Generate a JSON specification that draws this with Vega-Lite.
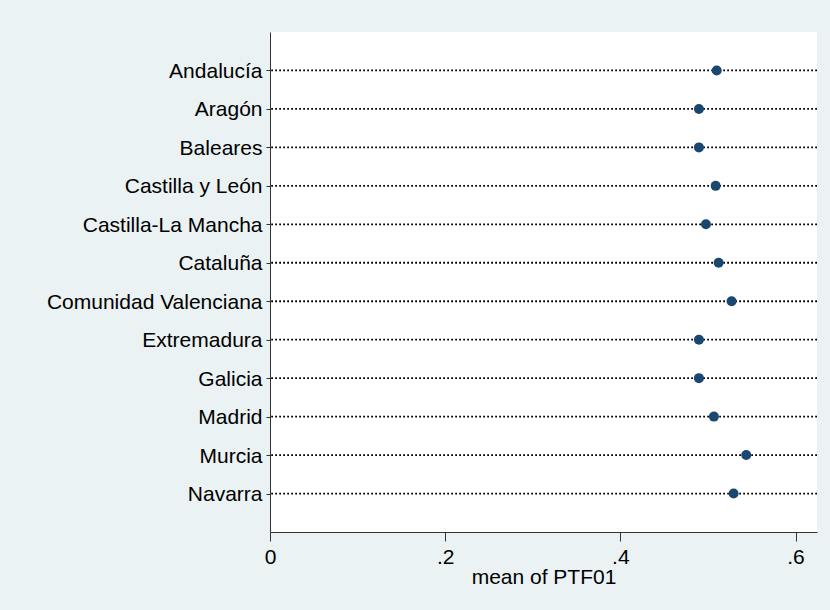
{
  "$schema": "https://vega.github.io/schema/vega-lite/v6.json",
  "autosize": {"type": "none"},
  "width": 547,
  "height": 500,
  "padding": {"left": 270, "top": 32, "right": 13, "bottom": 78},
  "background": "#EAF2F3",
  "config": {
    "view": {"fill": "white", "stroke": null},
    "font": "Liberation Sans"
  },
  "data": {
    "values": [
      {"region": "Andalucía", "mean": 0.510},
      {"region": "Aragón", "mean": 0.4897},
      {"region": "Baleares", "mean": 0.4897},
      {"region": "Castilla y León", "mean": 0.5088},
      {"region": "Castilla-La Mancha", "mean": 0.4977},
      {"region": "Cataluña", "mean": 0.5122},
      {"region": "Comunidad Valenciana", "mean": 0.527},
      {"region": "Extremadura", "mean": 0.4897},
      {"region": "Galicia", "mean": 0.4897},
      {"region": "Madrid", "mean": 0.5068},
      {"region": "Murcia", "mean": 0.5437},
      {"region": "Navarra", "mean": 0.5293}
    ]
  },
  "encoding": {
    "y": {
      "field": "region",
      "type": "nominal",
      "sort": null,
      "scale": {"type": "point", "padding": 1.06, "round": false},
      "axis": {
        "title": null,
        "labelFontSize": 21,
        "labelColor": "black",
        "labelPadding": 4,
        "labelLimit": 400,
        "labelOffset": 1,
        "tickSize": 4,
        "tickColor": "#333",
        "domainColor": "#333",
        "grid": false
      }
    }
  },
  "layer": [
    {
      "mark": {"type": "rule", "color": "black", "strokeWidth": 1.8, "strokeDash": [1.8, 2.2]},
      "encoding": {}
    },
    {
      "mark": {"type": "point", "filled": true, "color": "#1A476F", "size": 100, "opacity": 1},
      "encoding": {
        "x": {
          "field": "mean",
          "type": "quantitative",
          "scale": {"domain": [0, 0.6245], "nice": false, "zero": true},
          "axis": {
            "title": "mean of PTF01",
            "titleFontSize": 21,
            "titleFontWeight": "normal",
            "titleColor": "black",
            "titleBaseline": "alphabetic",
            "titleY": 51,
            "values": [0, 0.2, 0.4, 0.6],
            "labelExpr": "datum.value == 0 ? '0' : replace(format(datum.value, '.1f'), '0.', '.')",
            "labelFontSize": 21,
            "labelColor": "black",
            "labelPadding": 5,
            "labelFlush": false,
            "tickSize": 9,
            "tickColor": "#333",
            "domainColor": "#333",
            "grid": false
          }
        }
      }
    }
  ]
}
